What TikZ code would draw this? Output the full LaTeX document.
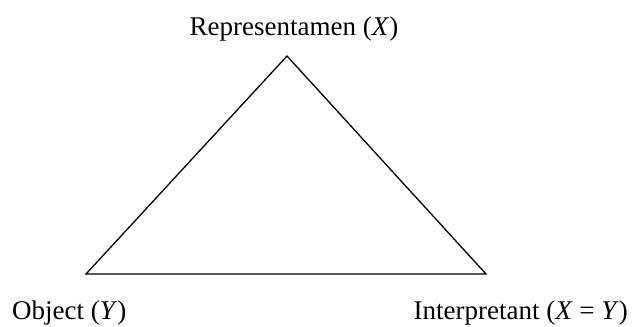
\documentclass[tikz,border=0pt]{standalone}
\usepackage{fontspec}
\setmainfont{Liberation Serif}
\begin{document}
\begin{tikzpicture}[x=1pt,y=-1pt,
  lbl/.style={inner sep=0pt,font=\fontsize{27}{30}\selectfont},
  edge/.style={line width=1.3pt,line join=miter}]
\useasboundingbox (0,0) rectangle (633,327);
\coordinate (R) at (287,56);
\coordinate (O) at (86,274);
\coordinate (I) at (486,274);
\draw[edge] (R) -- (O) -- (I) -- cycle;
\node[lbl,anchor=base] (tR) at (294,35) {Representamen (\textit{X})};
\node[lbl,anchor=base west] (tO) at (12,319) {Object (\textit{Y})};
\node[lbl,anchor=base east] (tI) at (628,319) {Interpretant (\textit{X} = \textit{Y})};
\end{tikzpicture}
\end{document}
